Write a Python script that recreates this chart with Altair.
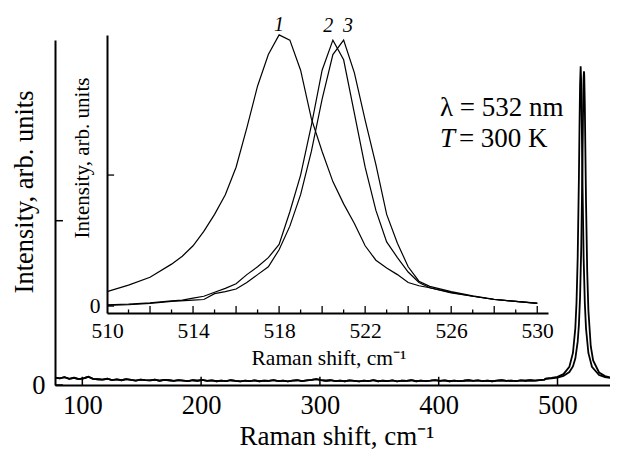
import altair as alt
import pandas as pd

FONT = "Liberation Serif"

# ---------------- main spectrum ----------------
base_x = list(range(77, 490, 4))
base_y = [
    0.045, 0.040, 0.048, 0.038, 0.044, 0.036, 0.041, 0.050, 0.037, 0.035,
    0.033, 0.038, 0.030, 0.034, 0.029, 0.036, 0.031, 0.027, 0.033, 0.030,
    0.028, 0.032, 0.026, 0.031, 0.029, 0.025, 0.030, 0.027, 0.024, 0.029,
    0.026, 0.031, 0.025, 0.028, 0.023, 0.027, 0.024, 0.029, 0.025, 0.022,
    0.027, 0.024, 0.028, 0.023, 0.026, 0.025, 0.030, 0.024, 0.027, 0.022,
    0.026, 0.029, 0.024, 0.028, 0.031, 0.036, 0.030, 0.026, 0.029, 0.024,
    0.027, 0.023, 0.028, 0.025, 0.022, 0.027, 0.024, 0.029, 0.023, 0.026,
    0.024, 0.028, 0.022, 0.026, 0.025, 0.029, 0.023, 0.027, 0.024, 0.026,
    0.030, 0.025, 0.028, 0.023, 0.027, 0.024, 0.026, 0.029, 0.025, 0.028,
    0.024, 0.027, 0.023, 0.026, 0.029, 0.025, 0.027, 0.024, 0.028, 0.026,
    0.029, 0.027, 0.030, 0.032,
]
peak_a_x = [490, 495, 500, 505, 510, 513, 515, 516, 517, 518, 518.5, 519, 519.5,
            520, 520.5, 521, 522, 523, 524, 526, 529, 535, 540, 545, 550]
peak_a_y = [0.039, 0.043, 0.050, 0.066, 0.111, 0.195, 0.345, 0.50, 0.775, 1.25, 1.56, 1.83, 1.94,
            1.83, 1.56, 1.25, 0.775, 0.50, 0.345, 0.195, 0.111, 0.061, 0.048, 0.042, 0.038]
peak_b_x = [490, 495, 500, 505, 510, 513, 515, 517, 518, 519, 520, 521, 521.5, 522, 522.3,
            522.5, 523, 523.5, 524, 525, 526, 528, 530, 535, 540, 545, 550]
peak_b_y = [0.037, 0.040, 0.045, 0.055, 0.079, 0.113, 0.161, 0.264, 0.364, 0.535, 0.84, 1.35, 1.65, 1.87, 1.91,
            1.89, 1.705, 1.41, 1.12, 0.696, 0.455, 0.236, 0.149, 0.076, 0.054, 0.045, 0.040]

# ---------------- inset spectra ----------------
c1_x = [510, 511, 512, 513, 513.5, 514, 514.5, 515, 515.5, 516, 516.5, 517, 517.5, 518, 518.5,
        519, 519.5, 520, 520.5, 521, 521.5, 522, 522.5, 523, 523.5, 524, 524.5, 525, 526, 527, 528, 529, 530]
c1_y = [0.11, 0.16, 0.22, 0.32, 0.38, 0.46, 0.57, 0.70, 0.85, 1.06, 1.36, 1.68, 1.92, 2.07, 2.03,
        1.80, 1.43, 1.18, 0.95, 0.78, 0.63, 0.46, 0.35, 0.29, 0.24, 0.18, 0.155, 0.14, 0.10, 0.075, 0.05, 0.035, 0.02]
c2_x = [510, 511, 512, 513, 513.5, 514, 514.5, 515, 515.5, 516, 516.5, 517, 517.5, 518, 518.5,
        519, 519.5, 520, 520.5, 521, 521.5, 522, 522.5, 523, 523.5, 524, 524.5, 525, 526, 527, 528, 529, 530]
c2_y = [0.01, 0.015, 0.025, 0.04, 0.046, 0.06, 0.075, 0.105, 0.135, 0.17, 0.24, 0.30, 0.37, 0.47, 0.72,
        1.00, 1.38, 1.80, 2.03, 1.88, 1.47, 1.06, 0.73, 0.49, 0.37, 0.26, 0.18, 0.14, 0.105, 0.075, 0.05, 0.035, 0.02]
c3_x = [510, 511, 512, 513, 514, 514.5, 515, 515.5, 516, 516.5, 517, 517.5, 518, 518.5,
        519, 519.5, 520, 520.5, 521, 521.5, 522, 522.5, 523, 523.5, 524, 524.5, 525, 526, 527, 528, 529, 530]
c3_y = [0.005, 0.01, 0.02, 0.035, 0.045, 0.05, 0.095, 0.11, 0.13, 0.18, 0.24, 0.30, 0.43, 0.61,
        0.85, 1.18, 1.58, 1.92, 2.03, 1.78, 1.42, 1.08, 0.70, 0.48, 0.30, 0.19, 0.15, 0.11, 0.078, 0.052, 0.036, 0.022]

# ---------------- ticks & labels ----------------
main_x_ticks = [100, 200, 300, 400, 500]
main_y_ticks = [0, 1]
inset_label_ticks = [510, 514, 518, 522, 526, 530]
inset_long_ticks = [512, 514, 516, 518, 520, 522, 524, 526, 528, 530]
inset_short_ticks = [511, 513, 515, 517, 519, 521, 523, 525, 527, 529]
inset_y_ticks = [0, 1]
peak_labels = ["1", "2", "3"]
peak_label_x = [518.0, 520.28, 521.2]
peak_label_y = [2.10, 2.09, 2.09]

# ---------------- tables ----------------
rows = []
for name, px, py in [("a", peak_a_x, peak_a_y), ("b", peak_b_x, peak_b_y)]:
    for xv, yv in zip(base_x + px, base_y + py):
        rows.append({"series": name, "x": xv, "y": yv})
main_df = pd.DataFrame(rows)

rows = []
for name, px, py in [("1", c1_x, c1_y), ("2", c2_x, c2_y), ("3", c3_x, c3_y)]:
    for xv, yv in zip(px, py):
        rows.append({"series": name, "x": xv, "y": yv})
inset_df = pd.DataFrame(rows)

MAIN_X0, MAIN_X1 = 77, 544.2
MAIN_Y0, MAIN_Y1 = 0, 2.1
INS_X0, INS_X1 = 510, 530.5
INS_Y0, INS_Y1 = -0.053, 2.069


def mx():
    return alt.Scale(domain=[MAIN_X0, MAIN_X1], nice=False, zero=False)


def my():
    return alt.Scale(domain=[MAIN_Y0, MAIN_Y1], nice=False, zero=False)


def ix():
    return alt.Scale(domain=[INS_X0, INS_X1], range=[52, 493], nice=False, zero=False)


def iy():
    return alt.Scale(domain=[INS_Y0, INS_Y1], range=[273, -5], nice=False, zero=False)


main_xt_df = pd.DataFrame({"x": main_x_ticks, "y0": [MAIN_Y0] * len(main_x_ticks),
                           "y1": [MAIN_Y0 + 0.05] * len(main_x_ticks)})
main_yt_df = pd.DataFrame({"y": main_y_ticks, "x0": [MAIN_X0] * 2, "x1": [MAIN_X0 + 6.7] * 2})
ins_xt_df = pd.DataFrame({
    "x": inset_long_ticks + inset_short_ticks,
    "y0": [INS_Y0] * (len(inset_long_ticks) + len(inset_short_ticks)),
    "y1": [INS_Y0 + 0.053] * len(inset_long_ticks) + [INS_Y0 + 0.027] * len(inset_short_ticks),
})
ins_yt_df = pd.DataFrame({"y": inset_y_ticks, "x0": [INS_X0] * 2, "x1": [INS_X0 + 0.33] * 2})
peak_lab_df = pd.DataFrame({"t": peak_labels, "x": peak_label_x, "y": peak_label_y})
ann_df = pd.DataFrame({"t": ["λ = 532 nm", "= 300 K"], "x": [401, 417], "y": [1.637, 1.450]})
ann_t_df = pd.DataFrame({"t": ["T"], "x": [401], "y": [1.450]})

label_common = dict(labelFont=FONT, labelColor="black", titleFont=FONT, titleColor="black",
                    titleFontWeight="normal", grid=False, ticks=False, labelFlush=False,
                    domainColor="black", domainWidth=2)

main_lines = alt.Chart(main_df).mark_line(color="black", strokeWidth=1.8).encode(
    x=alt.X("x:Q", scale=mx(), axis=alt.Axis(
        values=main_x_ticks, title="Raman shift, cm⁻¹", labelFontSize=26.5, labelPadding=28,
        labelBaseline="alphabetic", titleFontSize=27, titleX=281.5, titleY=59,
        titleBaseline="alphabetic", titleAlign="center", orient="bottom", **label_common)),
    y=alt.Y("y:Q", scale=my(), axis=alt.Axis(
        values=main_y_ticks, labelExpr="datum.value == 0 ? '0' : ''", title="Intensity, arb. units",
        labelFontSize=26.5, labelPadding=10, labelBaseline="middle", titleFontSize=26.5,
        titleX=-23, titleY=151.5, titleAngle=270, titleBaseline="alphabetic", titleAlign="center",
        orient="left", **label_common)),
    detail="series:N",
)
main_xt = alt.Chart(main_xt_df).mark_rule(color="black", strokeWidth=1.5).encode(
    x=alt.X("x:Q", scale=mx(), axis=None), y=alt.Y("y0:Q", scale=my(), axis=None), y2="y1:Q")
main_yt = alt.Chart(main_yt_df).mark_rule(color="black", strokeWidth=1.5).encode(
    x=alt.X("x0:Q", scale=mx(), axis=None), x2="x1:Q", y=alt.Y("y:Q", scale=my(), axis=None))
ann = alt.Chart(ann_df).mark_text(font=FONT, fontSize=27, align="left", baseline="alphabetic",
                                  color="black").encode(
    x=alt.X("x:Q", scale=mx(), axis=None), y=alt.Y("y:Q", scale=my(), axis=None), text="t:N")
ann_t = alt.Chart(ann_t_df).mark_text(font=FONT, fontSize=27, fontStyle="italic", align="left",
                                      baseline="alphabetic", color="black").encode(
    x=alt.X("x:Q", scale=mx(), axis=None), y=alt.Y("y:Q", scale=my(), axis=None), text="t:N")

ins_lines = alt.Chart(inset_df).mark_line(color="black", strokeWidth=1.2).encode(
    x=alt.X("x:Q", scale=ix(), axis=alt.Axis(
        values=inset_label_ticks, title="Raman shift, cm⁻¹", labelFontSize=21.5, labelPadding=24,
        labelBaseline="alphabetic", titleFontSize=21.5, titleX=273.5, titleY=51,
        titleBaseline="alphabetic", titleAlign="center", orient="bottom", offset=-72, **label_common)),
    y=alt.Y("y:Q", scale=iy(), axis=alt.Axis(
        values=inset_y_ticks, labelExpr="datum.value == 0 ? '0' : ''", title="Intensity, arb. units",
        labelFontSize=21.5, labelPadding=7, labelBaseline="middle", titleFontSize=21,
        titleX=-19, titleY=117.5, titleAngle=270, titleBaseline="alphabetic", titleAlign="center",
        orient="left", offset=-52, **label_common)),
    detail="series:N",
)
ins_xt = alt.Chart(ins_xt_df).mark_rule(color="black", strokeWidth=1.3).encode(
    x=alt.X("x:Q", scale=ix(), axis=None), y=alt.Y("y0:Q", scale=iy(), axis=None), y2="y1:Q")
ins_yt = alt.Chart(ins_yt_df).mark_rule(color="black", strokeWidth=1.3).encode(
    x=alt.X("x0:Q", scale=ix(), axis=None), x2="x1:Q", y=alt.Y("y:Q", scale=iy(), axis=None))
peak_lab = alt.Chart(peak_lab_df).mark_text(font=FONT, fontSize=20, fontStyle="italic", align="center",
                                            baseline="alphabetic", color="black").encode(
    x=alt.X("x:Q", scale=ix(), axis=None), y=alt.Y("y:Q", scale=iy(), axis=None), text="t:N")

chart = alt.layer(
    main_lines, main_xt, main_yt, ann, ann_t, ins_lines, ins_xt, ins_yt, peak_lab
).resolve_scale(
    x="independent", y="independent"
).properties(
    width=555, height=345, autosize="none",
    padding={"left": 47, "top": 32, "right": 0, "bottom": 65},
    background="white",
).configure_view(stroke=None)

chart.save("out.html", embed_options={"renderer": "svg", "actions": False})
